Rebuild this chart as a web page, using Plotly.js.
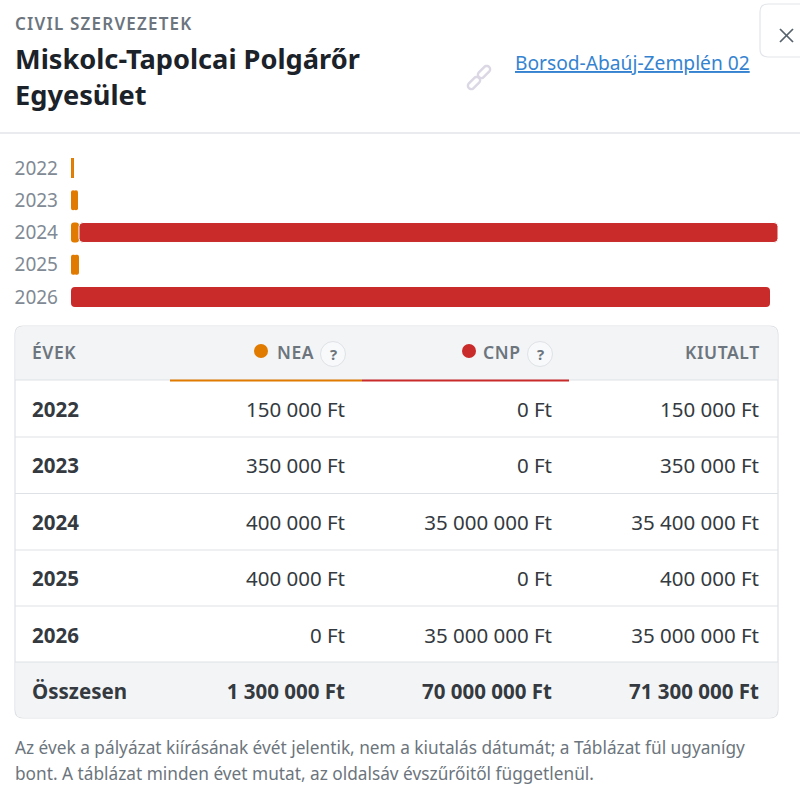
<!DOCTYPE html>
<html>
<head>
<meta charset="utf-8">
<script src="https://cdn.plot.ly/plotly-3.0.1.min.js"></script>
<style>
html, body { margin: 0; padding: 0; background: #fff; }
#chart { width: 800px; height: 794px; }
text[data-unformatted="CIVIL SZERVEZETEK"] { letter-spacing: 1.2px; }
text[data-unformatted="ÉVEK"], text[data-unformatted="NEA"], text[data-unformatted="CNP"], text[data-unformatted="KIUTALT"] { letter-spacing: .6px; }
</style>
</head>
<body>
<div id="chart"></div>
<script>
const years = ['2022', '2023', '2024', '2025', '2026'];
const nea = [150000, 350000, 400000, 400000, 0];
const cnp = [0, 0, 35000000, 0, 35000000];
const kiutalt = [150000, 350000, 35400000, 400000, 35000000];
const totalLabel = 'Összesen';
const totals = [1300000, 70000000, 71300000];
const headers = ['ÉVEK', 'NEA', 'CNP', 'KIUTALT'];
const footnotes = [
    'Az évek a pályázat kiírásának évét jelentik, nem a kiutalás dátumát; a Táblázat fül ugyanígy',
    'bont. A táblázat minden évet mutat, az oldalsáv évszűrőitől függetlenül.',
];

const W = 800, H = 794;
const FONT = '"Noto Sans", sans-serif';
const ORANGE = '#e07b00', RED = '#c92a2a';
const GRAY = '#6c757d', LINE = '#dee2e6', HEAD = '#f3f4f6';
const RADIUS = 4;

// pixel -> paper helpers
const px = (x) => x / W;
const py = (y) => 1 - y / H;
const ft = (v) => String(v).replace(/\B(?=(\d{3})+$)/g, ' ') + ' Ft';

function label(text, x, y, anchor, size, color, weight) {
    // annotations keep about 2.5px of padding round the text
    const nudge = anchor === 'left' ? -2.5 : anchor === 'right' ? 2.5 : 0;
    return {
        text: text, xref: 'paper', yref: 'paper', x: px(x + nudge), y: py(y),
        xanchor: anchor, yanchor: 'middle', showarrow: false,
        font: { family: FONT, size: size, color: color, weight: weight || 400 },
    };
}

function hline(y, x0, x1, color, width) {
    return {
        type: 'line', xref: 'paper', yref: 'paper', layer: 'below',
        x0: px(x0), x1: px(x1), y0: py(y), y1: py(y),
        line: { color: color, width: width },
    };
}

function circle(cx, cy, r, fill, border) {
    return {
        type: 'circle', xref: 'paper', yref: 'paper', layer: 'below',
        x0: px(cx - r), x1: px(cx + r), y0: py(cy - r), y1: py(cy + r),
        fillcolor: fill, line: { color: border, width: border === fill ? 0 : 1 },
    };
}

// rectangle with separately rounded corners [tl, tr, br, bl]
function rrect(x0, y0, x1, y1, r, fill, border) {
    const P = (x, y) => px(x) + ',' + py(y);
    const path = 'M' + P(x0 + r[0], y0) + ' L' + P(x1 - r[1], y0) + ' Q' + P(x1, y0) + ' ' + P(x1, y0 + r[1])
        + ' L' + P(x1, y1 - r[2]) + ' Q' + P(x1, y1) + ' ' + P(x1 - r[2], y1)
        + ' L' + P(x0 + r[3], y1) + ' Q' + P(x0, y1) + ' ' + P(x0, y1 - r[3])
        + ' L' + P(x0, y0 + r[0]) + ' Q' + P(x0, y0) + ' ' + P(x0 + r[0], y0) + ' Z';
    return {
        type: 'path', xref: 'paper', yref: 'paper', layer: 'below', path: path,
        fillcolor: fill, line: { color: border || fill, width: border ? 1.2 : 0 },
    };
}

// one chain link of the icon, a rotated capsule
function link(cx, cy) {
    const a = -Math.PI / 4, L = 3.8, R = 3.4;
    const pts = [];
    for (let i = 0; i <= 24; i++) {
        const t = i / 24 * 2 * Math.PI;
        const ux = R * Math.cos(t) + (Math.cos(t) >= 0 ? L : -L);
        const uy = R * Math.sin(t);
        pts.push(px(cx + ux * Math.cos(a) - uy * Math.sin(a)) + ',' + py(cy + ux * Math.sin(a) + uy * Math.cos(a)));
    }
    return {
        type: 'path', xref: 'paper', yref: 'paper', layer: 'below',
        path: 'M' + pts.join(' L') + ' Z',
        line: { color: '#dcd7e4', width: 2.4 },
    };
}

// plotly only rounds the far end of a bar, so a bar rounded on both ends is
// drawn as two overlapping pieces growing out of its middle
function bar(color, rows, base, width, radius, gap) {
    return {
        type: 'bar', orientation: 'h', y: rows.map((i) => years[i]),
        base: rows.map(base), x: rows.map(width),
        marker: { color: color, cornerradius: radius, line: { color: '#fff', width: gap ? 1 : 0 } },
        hoverinfo: 'skip', xaxis: 'x', yaxis: 'y',
    };
}

const idx = years.map((_, i) => i);
const neaOnly = idx.filter((i) => nea[i] > 0 && cnp[i] === 0);
const cnpOnly = idx.filter((i) => nea[i] === 0 && cnp[i] > 0);
const both = idx.filter((i) => nea[i] > 0 && cnp[i] > 0);

const barTraces = [
    bar(ORANGE, neaOnly, (i) => nea[i] * 0.6, (i) => -nea[i] * 0.6, RADIUS),
    bar(ORANGE, neaOnly, (i) => nea[i] * 0.4, (i) => nea[i] * 0.6, RADIUS),
    bar(RED, cnpOnly, (i) => cnp[i] * 0.6, (i) => -cnp[i] * 0.6, RADIUS),
    bar(RED, cnpOnly, (i) => cnp[i] * 0.4, (i) => cnp[i] * 0.6, RADIUS),
    bar(ORANGE, both, (i) => nea[i], (i) => -nea[i], RADIUS),
    bar(RED, both, (i) => nea[i], (i) => cnp[i], RADIUS, true),
];

const plain = (s) => '<span>' + s + '</span>';
const bold = (s) => '<b>' + s + '</b>';
const table = {
    type: 'table',
    domain: { x: [px(24), px(767)], y: [py(725), py(387)] },
    columnwidth: [146, 183, 207, 207],
    header: { values: ['', '', '', ''], height: 0, line: { width: 0 }, fill: { color: 'rgba(0,0,0,0)' } },
    cells: {
        values: [
            years.map(bold).concat(bold(totalLabel)),
            nea.map(ft).map(plain).concat(bold(ft(totals[0]))),
            cnp.map(ft).map(plain).concat(bold(ft(totals[1]))),
            kiutalt.map(ft).map(plain).concat(bold(ft(totals[2]))),
        ],
        align: ['left', 'right', 'right', 'right'],
        height: 56.4,
        line: { width: 0 },
        fill: { color: 'rgba(0,0,0,0)' },
        font: { family: FONT, size: 20.5, color: '#343a40' },
    },
};

const shapes = [
    hline(133, 0, 800, '#e2e4ea', 1.5),
    rrect(760, 4, 812, 57, [8, 0, 0, 8], '#fff', '#e3e5ea'),
    { type: 'line', xref: 'paper', yref: 'paper', x0: px(780), x1: px(793), y0: py(29), y1: py(42), line: { color: '#56626d', width: 1.7 } },
    { type: 'line', xref: 'paper', yref: 'paper', x0: px(780), x1: px(793), y0: py(42), y1: py(29), line: { color: '#56626d', width: 1.7 } },
    link(474, 83), link(484, 72),
    rrect(15, 326, 778, 718, [8, 8, 8, 8], '#fff', LINE),
    rrect(15.6, 326.6, 777.4, 380, [8, 8, 0, 0], HEAD),
    rrect(15.6, 662, 777.4, 717.4, [0, 0, 8, 8], HEAD),
    hline(380, 15, 778, LINE, 1.2),
    hline(437, 15, 778, LINE, 1.2),
    hline(493.5, 15, 778, LINE, 1.2),
    hline(550, 15, 778, LINE, 1.2),
    hline(606, 15, 778, LINE, 1.2),
    hline(662, 15, 778, LINE, 1.2),
    hline(380.5, 170, 362, ORANGE, 2),
    hline(380.5, 362, 569, RED, 2),
    circle(261, 351, 7, ORANGE, ORANGE),
    circle(469, 351, 7, RED, RED),
    circle(333, 354, 12.5, '#f8f9fa', LINE),
    circle(540, 354, 12.5, '#f8f9fa', LINE),
];

const annotations = [
    label('CIVIL SZERVEZETEK', 15, 24, 'left', 17, GRAY, 600),
    label('Miskolc-Tapolcai Polgárőr', 15, 59, 'left', 27.2, '#1b2229', 700),
    label('Egyesület', 15, 95, 'left', 27.2, '#1b2229', 700),
    label('<u>Borsod-Abaúj-Zemplén 02</u>', 515, 62, 'left', 19.2, '#3583d0'),
    label(headers[0], 32, 352, 'left', 17.5, GRAY, 600),
    label(headers[1], 313, 352, 'right', 17.5, GRAY, 600),
    label('?', 333, 354, 'center', 15, GRAY, 700),
    label(headers[2], 520, 352, 'right', 17.5, GRAY, 600),
    label('?', 540, 354, 'center', 15, GRAY, 700),
    label(headers[3], 759, 352, 'right', 17.5, GRAY, 600),
    label(footnotes[0], 15, 747, 'left', 17.25, GRAY),
    label(footnotes[1], 15, 773, 'left', 17.25, GRAY),
];

const layout = {
    width: W, height: H,
    margin: { l: 0, r: 0, t: 0, b: 0 },
    paper_bgcolor: '#fff', plot_bgcolor: '#fff',
    showlegend: false,
    barmode: 'overlay', bargap: 0.38,
    font: { family: FONT },
    xaxis: { domain: [px(71), px(778)], range: [0, 35400000], visible: false, fixedrange: true },
    yaxis: {
        domain: [py(313), py(152)], type: 'category', categoryorder: 'array', categoryarray: years,
        autorange: 'reversed', showgrid: false, showline: false, zeroline: false, ticks: '',
        ticklabelstandoff: 12, tickfont: { family: FONT, size: 19, color: '#7f8a94' }, fixedrange: true,
    },
    shapes: shapes,
    annotations: annotations,
};

Plotly.newPlot('chart', barTraces.concat(table), layout, { displayModeBar: false, staticPlot: true });
</script>
</body>
</html>
